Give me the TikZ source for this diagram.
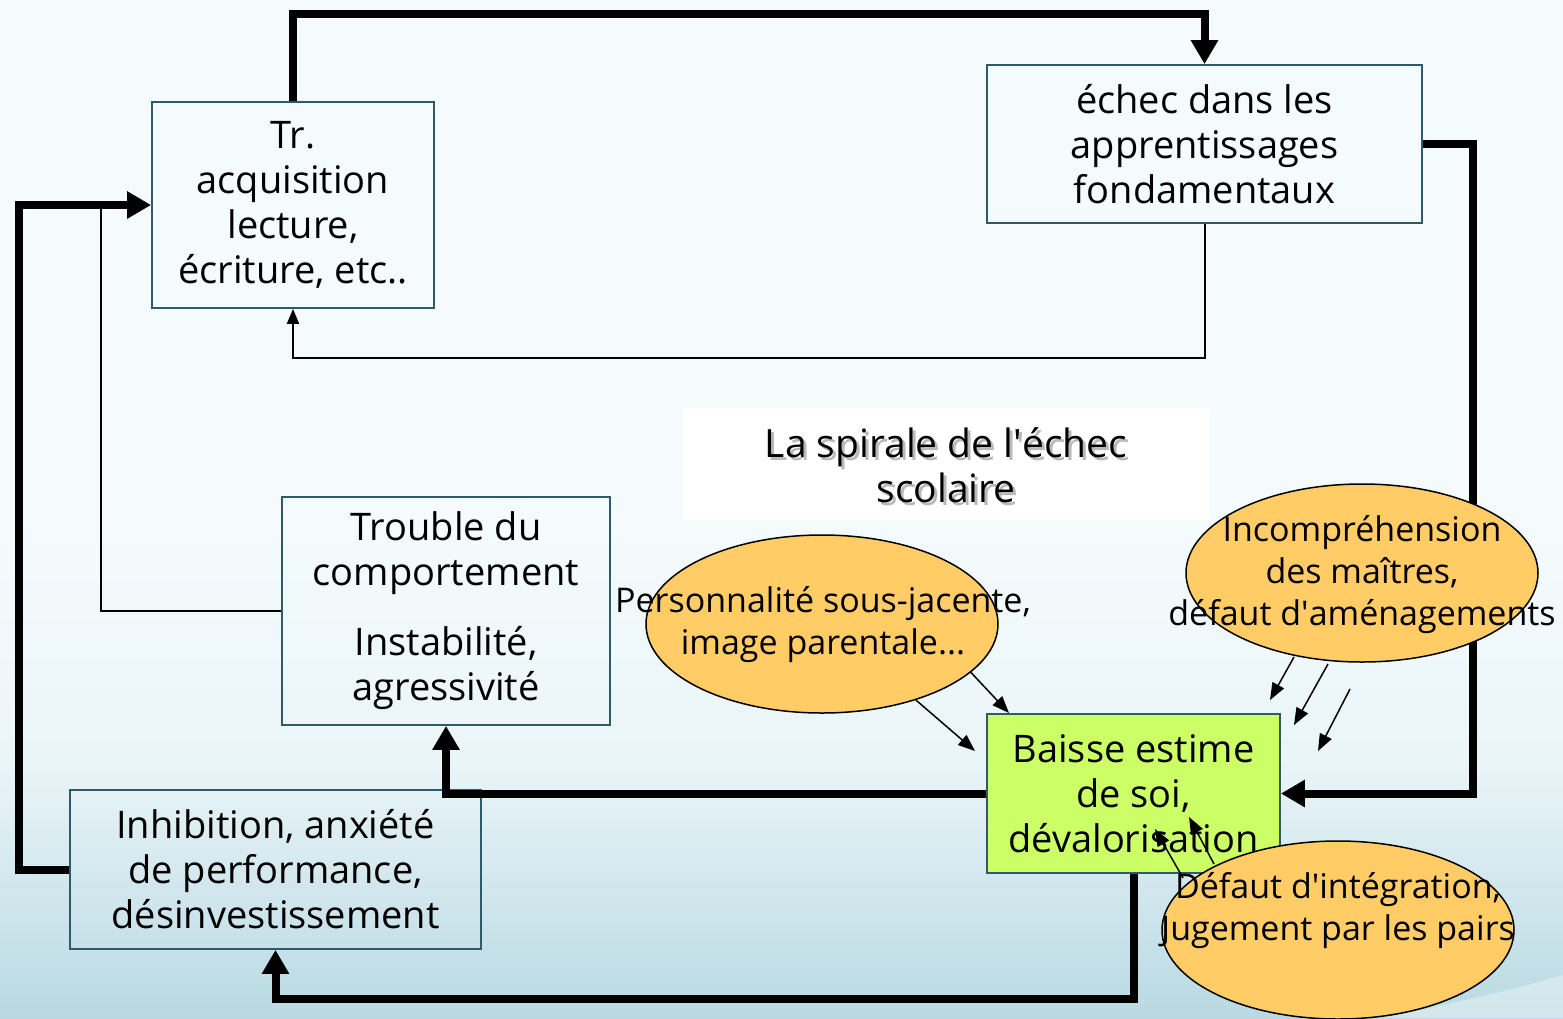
\documentclass[tikz,border=0pt]{standalone}
\usepackage{fontspec}
\setmainfont{Open Sans}
\usetikzlibrary{arrows.meta,shapes.geometric,calc}
\definecolor{bgtop}{HTML}{F5FBFD}
\definecolor{bgmid}{HTML}{EAF5F8}
\definecolor{bgbot}{HTML}{B9D9E2}
\definecolor{boxline}{HTML}{2E5A6A}
\definecolor{greenfill}{HTML}{CCFF66}
\definecolor{orangefill}{HTML}{FFCC66}
\newcommand{\aq}{\textquotesingle}
\tikzset{
  boxnode/.style={draw=boxline, line width=1.8pt, align=center, inner sep=0pt,
    font=\fontsize{38}{45}\selectfont},
  ellnode/.style={ellipse, draw=black, line width=1.5pt, fill=orangefill,
    minimum width=352pt, minimum height=178pt, inner sep=0pt},
  elltext/.style={align=center, inner sep=0pt, font=\fontsize{34}{42}\selectfont},
  titletext/.style={align=center, inner sep=0pt, font=\fontsize{39}{45}\selectfont},
  bigarrow/.style={line width=8pt, line join=miter, -{Triangle[length=24pt,width=26pt]}},
  thinarrow/.style={line width=2pt, -{Triangle[length=15pt,width=12pt]}},
  thinline/.style={line width=2pt},
  smallarrow/.style={line width=1.5pt, -{Triangle[length=17pt,width=13pt]}},
}
\begin{document}
\begin{tikzpicture}[x=1pt,y=-1pt]
\useasboundingbox (0,0) rectangle (1563,1018);
% background
\fill[bgtop] (0,0) rectangle (1563,520);
\shade[top color=bgtop, bottom color=bgmid] (0,519) rectangle (1563,760);
\shade[top color=bgmid, bottom color=bgbot] (0,759) rectangle (1563,1018);
\fill[white, opacity=0.35] (1380,1018) .. controls (1470,1000) and (1530,985) .. (1563,975) -- (1563,1018) -- cycle;

% coordinates for routing
\coordinate (topy) at (0,14);
\coordinate (rx) at (1473,0);
\coordinate (boty) at (0,999);
\coordinate (lx) at (19,0);
\coordinate (midy) at (0,358);
\coordinate (tx) at (101,0);

% title box
\node[fill=white, minimum width=528pt, minimum height=112pt, inner sep=0pt] (T) at (946,464) {};
\node[titletext, text=gray!55] (Tsh) at (949,468) {La spirale de l\aq échec\\scolaire};
\node[titletext] (Tt) at (946,465) {La spirale de l\aq échec\\scolaire};

% boxes
\node[boxnode, minimum width=282pt, minimum height=206pt] (A) at (293,205) {Tr.\\acquisition\\lecture,\\écriture, etc..};
\node[boxnode, minimum width=435pt, minimum height=158pt] (B) at (1204.5,144) {échec dans les\\apprentissages\\fondamentaux};
\node[boxnode, minimum width=328pt, minimum height=228pt] (C) at (446,611) {Trouble du\\comportement\\[25pt]Instabilité,\\agressivité};
\node[boxnode, minimum width=411pt, minimum height=159pt] (D) at (275.5,869.5) {Inhibition, anxiété\\de performance,\\désinvestissement};
\node[boxnode, fill=greenfill, minimum width=293pt, minimum height=159pt] (E) at (1133.5,793.5) {Baisse estime\\de soi,\\dévalorisation};

% thick connectors
\draw[bigarrow] (A.north) -- (A.north |- topy) -| (B.north);
\draw[bigarrow] (B.east) -- (B.east -| rx) |- (E.east);
\draw[bigarrow] (E.west) -| (C.south);
\draw[bigarrow] (E.south) -- (E.south |- boty) -| (D.south);
\draw[bigarrow] (D.west) -- (D.west -| lx) |- (A.west);

% thin connectors
\draw[thinarrow] (B.south) -- (B.south |- midy) -| (A.south);
\draw[thinline] (C.west) -- (C.west -| tx) -- (tx |- A.west);

% ellipses
\node[ellnode] (P) at (822,624) {};
\node[ellnode] (I) at (1362,573) {};
\node[ellnode] (J) at (1338,930) {};
\node[elltext] (Pt) at (823,625) {Personnalité sous-jacente,\\image parentale...};
\node[elltext] (It) at (1362,575) {Incompréhension\\des maîtres,\\défaut d\aq aménagements};
\node[elltext] (Jt) at (1338,911) {Défaut d\aq intégration,\\Jugement par les pairs};

% small arrows
\coordinate (p1) at (975,751);
\coordinate (p2) at (1009,713);
\coordinate (i1s) at (1294,657);
\coordinate (i1) at (1270,700);
\coordinate (i2s) at (1328,664);
\coordinate (i2) at (1294,725);
\coordinate (i3s) at (1350,689);
\coordinate (i3) at (1318,751);
\coordinate (j1s) at (1183,878);
\coordinate (j1) at (1155,829);
\coordinate (j2s) at (1214,864);
\coordinate (j2) at (1189,817);
\draw[smallarrow] (P.-39) -- (p1);
\draw[smallarrow] (P.-18) -- (p2);
\draw[smallarrow] (i1s) -- (i1);
\draw[smallarrow] (i2s) -- (i2);
\draw[smallarrow] (i3s) -- (i3);
\draw[smallarrow] (j1s) -- (j1);
\draw[smallarrow] (j2s) -- (j2);
\end{tikzpicture}
\end{document}
